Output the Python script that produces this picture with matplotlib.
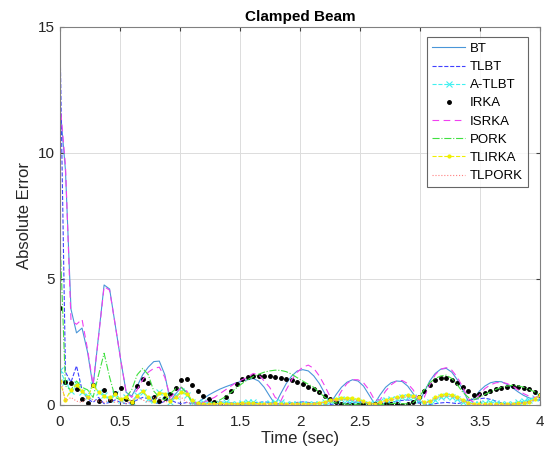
import numpy as np
import matplotlib
matplotlib.use("Agg")
import matplotlib.pyplot as plt

plt.rcParams['font.family'] = ['Liberation Sans', 'DejaVu Sans']

t_start, t_end, n_pts = 0.0, 4.0, 88

bt = [11.9, 9.3, 3.8, 2.86, 3.05, 2.1, 0.73, 2.75, 4.76, 4.6,
      3.2, 1.8, 0.5, 0.35, 0.75, 1.2, 1.5, 1.72, 1.74, 1.2,
      0.15, 0.45, 0.7, 0.5, 0.05, 0.1, 0.25, 0.4, 0.52, 0.63,
      0.72, 0.8, 0.88, 0.95, 1.0, 1.05, 0.95, 0.7, 0.35, 0.02,
      0.45, 0.85, 1.15, 1.35, 1.4, 1.35, 1.15, 0.85, 0.45, 0.05,
      0.4, 0.7, 0.9, 1.0, 0.95, 0.75, 0.4, 0.05, 0.4, 0.7,
      0.88, 0.95, 0.93, 0.75, 0.45, 0.08, 0.5, 0.95, 1.25, 1.42,
      1.45, 1.3, 1.0, 0.6, 0.15, 0.25, 0.55, 0.75, 0.88, 0.93,
      0.92, 0.82, 0.68, 0.52, 0.38, 0.28, 0.22, 0.2]

tlbt = [14.6, 1.3, 0.9, 1.55, 0.6, 0.25, 0.1, 0.3, 0.05, 0.1,
        0.2, 0.1, 0.05, 0.1, 0.2, 0.3, 0.25, 0.1, 0.05, 0.15,
        0.2, 0.1, 0.05, 0.1, 0.05, 0.03, 0.05, 0.08, 0.1, 0.12,
        0.1, 0.08, 0.05, 0.03, 0.05, 0.08, 0.1, 0.12, 0.1, 0.06,
        0.03, 0.05, 0.08, 0.1, 0.12, 0.1, 0.08, 0.05, 0.03, 0.02,
        0.03, 0.05, 0.08, 0.1, 0.12, 0.1, 0.08, 0.05, 0.03, 0.05,
        0.1, 0.15, 0.18, 0.2, 0.15, 0.08, 0.03, 0.02, 0.05, 0.08,
        0.1, 0.08, 0.05, 0.1, 0.18, 0.22, 0.25, 0.27, 0.22, 0.15,
        0.08, 0.03, 0.02, 0.05, 0.1, 0.15, 0.18, 0.2]

atlbt = [1.4, 0.9, 0.55, 0.85, 0.5, 0.35, 0.8, 0.5, 0.4, 0.25,
         0.45, 0.2, 0.3, 0.12, 0.4, 0.5, 0.25, 0.2, 0.5, 0.4,
         0.1, 0.35, 0.55, 0.4, 0.1, 0.05, 0.1, 0.05, 0.02, 0.05,
         0.1, 0.05, 0.02, 0.08, 0.12, 0.1, 0.05, 0.03, 0.08, 0.12,
         0.1, 0.05, 0.02, 0.03, 0.05, 0.04, 0.02, 0.05, 0.1, 0.15,
         0.2, 0.22, 0.2, 0.15, 0.1, 0.05, 0.03, 0.08, 0.15, 0.2,
         0.22, 0.25, 0.3, 0.32, 0.3, 0.2, 0.05, 0.1, 0.2, 0.3,
         0.35, 0.32, 0.25, 0.12, 0.03, 0.02, 0.05, 0.08, 0.1, 0.08,
         0.05, 0.03, 0.05, 0.1, 0.15, 0.2, 0.28, 0.33]

irka = [3.86, 0.9, 0.86, 0.63, 0.24, 0.07, 0.8, 0.17, 0.6, 0.2,
        0.49, 0.66, 0.24, 0.1, 0.75, 1.03, 0.86, 0.33, 0.16, 0.26,
        0.45, 0.66, 0.99, 1.02, 0.8, 0.57, 0.35, 0.24, 0.13, 0.0,
        0.33, 0.55, 0.82, 1.02, 1.1, 1.16, 1.16, 1.16, 1.15, 1.12,
        1.08, 1.03, 0.97, 0.9, 0.83, 0.73, 0.62, 0.5, 0.35, 0.24,
        0.1, 0.03, 0.0, 0.0, 0.0, 0.02, 0.03, 0.04, 0.05, 0.04,
        0.03, 0.02, 0.01, 0.02, 0.1, 0.3, 0.55, 0.8, 0.97, 1.05,
        1.07, 1.0, 0.88, 0.72, 0.55, 0.4, 0.42, 0.49, 0.56, 0.62,
        0.66, 0.72, 0.74, 0.72, 0.68, 0.62, 0.52, 0.4]

isrka = [12.0, 9.5, 3.35, 3.2, 3.4, 2.2, 0.8, 2.7, 4.7, 4.55,
         3.2, 1.8, 0.5, 0.3, 0.6, 1.0, 1.3, 1.45, 1.5, 1.1,
         0.3, 0.5, 0.7, 0.55, 0.15, 0.05, 0.1, 0.2, 0.3, 0.45,
         0.6, 0.75, 0.9, 1.0, 1.1, 1.25, 1.2, 0.95, 0.7, 0.3,
         0.15, 0.6, 1.0, 1.3, 1.5, 1.58, 1.45, 1.15, 0.75, 0.3,
         0.15, 0.55, 0.85, 1.0, 1.0, 0.88, 0.6, 0.2, 0.2, 0.55,
         0.8, 0.95, 0.97, 0.85, 0.6, 0.2, 0.3, 0.8, 1.2, 1.42,
         1.48, 1.38, 1.1, 0.7, 0.25, 0.1, 0.4, 0.65, 0.8, 0.88,
         0.9, 0.85, 0.75, 0.6, 0.45, 0.35, 0.3, 0.35]

pork = [6.7, 0.75, 0.6, 0.95, 0.7, 0.6, 0.3, 1.2, 2.05, 1.1,
        0.3, 0.2, 0.3, 0.6, 1.2, 1.45, 1.2, 0.55, 0.3, 0.2,
        0.45, 0.65, 0.7, 0.45, 0.1, 0.05, 0.03, 0.05, 0.1, 0.2,
        0.33, 0.5, 0.68, 0.85, 1.0, 1.12, 1.22, 1.3, 1.35, 1.38,
        1.37, 1.32, 1.22, 1.08, 0.95, 0.82, 0.7, 0.5, 0.3, 0.15,
        0.08, 0.05, 0.03, 0.02, 0.03, 0.05, 0.04, 0.03, 0.02, 0.03,
        0.05, 0.06, 0.05, 0.04, 0.1, 0.3, 0.6, 0.88, 1.05, 1.15,
        1.18, 1.05, 0.8, 0.5, 0.3, 0.2, 0.3, 0.42, 0.52, 0.62,
        0.7, 0.75, 0.78, 0.76, 0.7, 0.62, 0.52, 0.42]

tlirka = [0.95, 0.2, 0.6, 0.8, 0.55, 0.3, 0.78, 0.5, 0.35, 0.3,
          0.42, 0.22, 0.3, 0.1, 0.35, 0.55, 0.3, 0.15, 0.48, 0.45,
          0.15, 0.3, 0.5, 0.45, 0.2, 0.08, 0.05, 0.04, 0.05, 0.06,
          0.05, 0.04, 0.05, 0.06, 0.07, 0.06, 0.05, 0.04, 0.05, 0.06,
          0.05, 0.04, 0.04, 0.05, 0.05, 0.04, 0.05, 0.08, 0.12, 0.18,
          0.22, 0.26, 0.27, 0.26, 0.22, 0.15, 0.07, 0.04, 0.1, 0.18,
          0.25, 0.3, 0.35, 0.38, 0.37, 0.3, 0.1, 0.15, 0.3, 0.38,
          0.42, 0.4, 0.32, 0.2, 0.08, 0.04, 0.03, 0.03, 0.04, 0.03,
          0.03, 0.04, 0.05, 0.06, 0.08, 0.13, 0.25, 0.4]

tlpork = [1.1, 0.15, 0.3, 0.15, 0.1, 0.3, 0.2, 0.15, 0.1, 0.2,
          0.1, 0.15, 0.05, 0.2, 0.3, 0.2, 0.1, 0.3, 0.25, 0.1,
          0.2, 0.35, 0.3, 0.1, 0.05, 0.03, 0.02, 0.03, 0.04, 0.03,
          0.02, 0.03, 0.04, 0.05, 0.04, 0.03, 0.02, 0.03, 0.04, 0.03,
          0.02, 0.02, 0.03, 0.04, 0.03, 0.03, 0.04, 0.06, 0.1, 0.15,
          0.18, 0.2, 0.2, 0.18, 0.15, 0.1, 0.05, 0.03, 0.08, 0.14,
          0.2, 0.25, 0.3, 0.32, 0.3, 0.22, 0.08, 0.12, 0.25, 0.32,
          0.35, 0.33, 0.26, 0.15, 0.05, 0.03, 0.02, 0.02, 0.03, 0.02,
          0.02, 0.03, 0.04, 0.05, 0.06, 0.1, 0.2, 0.32]

labels = ['BT', 'TLBT', 'A-TLBT', 'IRKA', 'ISRKA', 'PORK', 'TLIRKA', 'TLPORK']
x_ticks = [0, 0.5, 1, 1.5, 2, 2.5, 3, 3.5, 4]
x_tick_labels = ['0', '0.5', '1', '1.5', '2', '2.5', '3', '3.5', '4']
y_ticks = [0, 5, 10, 15]

t = np.linspace(t_start, t_end, n_pts)

fig = plt.figure(figsize=(5.5, 4.55), dpi=100)
ax = fig.add_axes([0.109, 0.110, 0.873, 0.831])

lw = 0.8
ax.plot(t, bt, '-', color='#4a96d8', lw=lw, label=labels[0])
ax.plot(t, tlbt, '--', color='#4040ff', lw=lw, label=labels[1])
ax.plot(t, atlbt, '--', color='#40f0f0', lw=lw, marker='x', ms=4, mew=0.8, label=labels[2])
ax.plot(t, irka, '.', color='black', ms=5, label=labels[3])
ax.plot(t, isrka, '--', color='#f040f0', lw=lw, dashes=(6, 4), label=labels[4])
ax.plot(t, pork, '-.', color='#40e040', lw=lw, label=labels[5])
ax.plot(t, tlirka, '--', color='#f0f000', lw=lw, marker='.', ms=4, label=labels[6])
ax.plot(t, tlpork, ':', color='#ff7f7f', lw=lw, label=labels[7])

ax.set_xlim(0, 4)
ax.set_ylim(0, 15)
ax.set_xticks(x_ticks)
ax.set_xticklabels(x_tick_labels)
ax.set_yticks(y_ticks)
ax.grid(True, color='#dcdcdc', lw=0.7)
ax.set_axisbelow(True)
for s in ax.spines.values():
    s.set_color('#808080')
    s.set_linewidth(0.8)
ax.tick_params(direction='in', length=3, color='#404040', labelcolor='#262626',
               labelsize=11, top=True, right=True)
ax.tick_params(axis='x', pad=7)
ax.tick_params(axis='y', pad=4)

ax.set_title('Clamped Beam', fontsize=11, fontweight='bold', pad=4)
ax.set_xlabel('Time (sec)', fontsize=12, color='#262626', labelpad=2)
ax.set_ylabel('Absolute Error', fontsize=12, color='#262626', labelpad=4)

leg = ax.legend(loc='upper right', bbox_to_anchor=(0.975, 0.972), fontsize=9.5,
                frameon=True, fancybox=False, edgecolor='#404040',
                handlelength=2.5, labelspacing=0.45, borderpad=0.4,
                handletextpad=0.35, borderaxespad=0.0)
leg.get_frame().set_linewidth(0.8)

fig.savefig('out.png', dpi=100)
